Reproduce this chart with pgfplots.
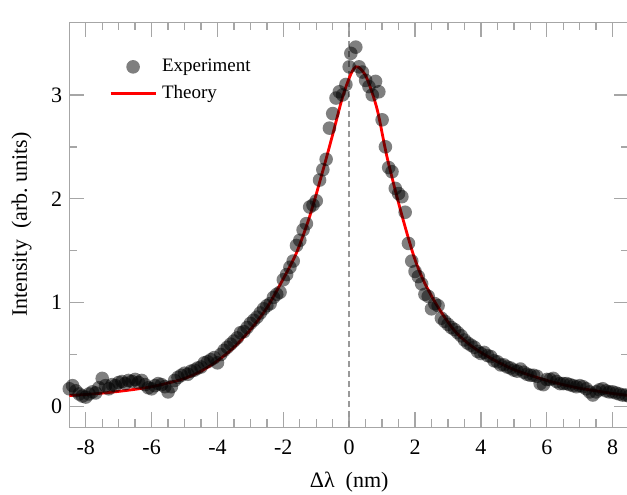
\documentclass[border=0pt]{standalone}
\usepackage{fontspec}
\setmainfont{Liberation Serif}
\usepackage{pgfplots}
\pgfplotsset{compat=1.18}
\pgfplotsset{
  markleg/.style={legend image code/.code={\draw[mark repeat=2, mark phase=2, ##1] plot coordinates {(0pt,0pt) (11.25pt,0pt) (22.5pt,0pt)};}},
  lineleg/.style={legend image code/.code={\draw[##1] (0pt,0pt) -- (22.5pt,0pt);}},
}
\begin{document}
\begin{tikzpicture}
\begin{axis}[
  scale only axis,
  width=279.9pt, height=202.5pt,
  xmin=-8.5, xmax=8.5, ymin=-0.2, ymax=3.7,
  xtick={-8,-6,...,8}, ytick={0,1,2,3},
  minor x tick num=3, minor y tick num=1,
  tick align=inside, tick pos=both,
  major tick length=7.5pt, minor tick length=4pt,
  axis line style={gray!70, line width=0.7pt},
  every tick/.style={gray!70, line width=0.7pt},
  /pgf/number format/assume math mode=true,
  tick label style={font=\fontsize{11}{13}\selectfont},
  xticklabel style={yshift=-3pt},
  label style={font=\fontsize{11}{13}\selectfont},
  xlabel={Δλ\ \ (nm)},
  ylabel={Intensity\ \ (arb.\ units)},
  xlabel style={yshift=-1.5pt},
  ylabel style={yshift=3pt},
  legend cell align=left,
  legend style={draw=none, fill=none, at={(axis cs:-7.3,3.14)}, anchor=west,
    inner sep=0pt, row sep=4pt, column sep=2.5pt,
    nodes={inner sep=0pt, text height=7pt, text depth=2.5pt},
    font=\fontsize{9.5}{11}\selectfont},
]
\addplot [gray!80, densely dashed, line width=0.7pt, forget plot] coordinates {(0,-0.2) (0,3.7)};
\addplot [black, only marks, mark=*, mark size=3.4pt,
  mark options={fill=black, fill opacity=0.5, draw opacity=0}, markleg]
coordinates {
(-8.5,0.17) (-8.4,0.20) (-8.3,0.15) (-8.2,0.12) (-8.1,0.10) (-8.0,0.09) (-7.9,0.12) (-7.8,0.14) (-7.7,0.13) (-7.6,0.18)
(-7.5,0.27) (-7.4,0.20) (-7.3,0.17) (-7.2,0.21) (-7.1,0.20) (-7.0,0.23) (-6.9,0.24) (-6.8,0.22) (-6.7,0.25) (-6.6,0.24)
(-6.5,0.26) (-6.4,0.23) (-6.3,0.25) (-6.2,0.21) (-6.1,0.18) (-6.0,0.17) (-5.9,0.20) (-5.8,0.22) (-5.7,0.21) (-5.6,0.19)
(-5.5,0.14) (-5.4,0.19) (-5.3,0.25) (-5.2,0.28) (-5.1,0.30) (-5.0,0.32) (-4.9,0.31) (-4.8,0.34) (-4.7,0.35) (-4.6,0.37)
(-4.5,0.38) (-4.4,0.42) (-4.3,0.43) (-4.2,0.45) (-4.1,0.47) (-4.0,0.42) (-3.9,0.50) (-3.8,0.54) (-3.7,0.57) (-3.6,0.60)
(-3.5,0.63) (-3.4,0.66) (-3.3,0.71) (-3.2,0.72) (-3.1,0.76) (-3.0,0.80) (-2.9,0.83) (-2.8,0.86) (-2.7,0.90) (-2.6,0.94)
(-2.5,0.97) (-2.4,0.99) (-2.3,1.05) (-2.2,1.08) (-2.1,1.10) (-2.0,1.22) (-1.9,1.27) (-1.8,1.34) (-1.7,1.40) (-1.6,1.55)
(-1.5,1.60) (-1.4,1.70) (-1.3,1.76) (-1.2,1.92) (-1.1,1.94) (-1.0,1.98) (-0.9,2.18) (-0.8,2.28) (-0.7,2.38) (-0.6,2.68)
(-0.5,2.82) (-0.4,2.97) (-0.3,3.03) (-0.2,3.00) (-0.1,3.10) (0.0,3.27) (0.05,3.40) (0.2,3.46) (0.3,3.27) (0.4,3.22)
(0.5,3.14) (0.6,3.08) (0.7,3.00) (0.8,3.13) (0.9,3.03) (1.0,2.76) (1.1,2.50) (1.2,2.30) (1.3,2.26) (1.4,2.10)
(1.5,2.05) (1.6,2.02) (1.7,1.87) (1.8,1.57) (1.9,1.40) (2.0,1.30) (2.1,1.25) (2.2,1.18) (2.3,1.08) (2.4,1.06)
(2.5,0.94) (2.6,0.99) (2.7,0.97) (2.8,0.85) (2.9,0.82) (3.0,0.79) (3.1,0.76) (3.2,0.74) (3.3,0.71) (3.4,0.68)
(3.5,0.64) (3.6,0.61) (3.7,0.59) (3.8,0.57) (3.9,0.53) (4.0,0.51) (4.1,0.52) (4.2,0.49) (4.3,0.48) (4.4,0.44)
(4.5,0.43) (4.6,0.40) (4.7,0.40) (4.8,0.38) (4.9,0.37) (5.0,0.35) (5.1,0.34) (5.2,0.36) (5.3,0.33) (5.4,0.31)
(5.5,0.30) (5.6,0.30) (5.7,0.29) (5.8,0.22) (5.9,0.21) (6.0,0.26) (6.1,0.26) (6.2,0.27) (6.3,0.24) (6.4,0.22)
(6.5,0.22) (6.6,0.22) (6.7,0.21) (6.8,0.20) (6.9,0.19) (7.0,0.20) (7.1,0.19) (7.2,0.17) (7.3,0.14) (7.4,0.11)
(7.5,0.14) (7.6,0.16) (7.7,0.17) (7.8,0.15) (7.9,0.14) (8.0,0.14) (8.1,0.13) (8.2,0.12) (8.3,0.11) (8.4,0.11)
(8.5,0.10)
};
\addlegendentry{Experiment}
\addplot [red, line width=1.4pt, smooth, tension=0.5, lineleg]
coordinates {
(-8.5,0.105) (-8.0,0.115) (-7.5,0.128) (-7.0,0.145) (-6.5,0.165) (-6.0,0.19) (-5.5,0.225) (-5.0,0.27)
(-4.5,0.34) (-4.0,0.44) (-3.5,0.57) (-3.0,0.74) (-2.5,0.95) (-2.0,1.23) (-1.6,1.48) (-1.2,1.83)
(-0.8,2.27) (-0.5,2.62) (-0.2,2.98) (0.05,3.20) (0.2,3.27) (0.35,3.25) (0.55,3.15) (0.85,2.86)
(1.15,2.40) (1.55,1.90) (1.95,1.46) (2.26,1.21) (2.67,0.97) (3.17,0.74) (3.6,0.61) (4.0,0.52)
(4.5,0.43) (5.0,0.355) (5.5,0.30) (6.0,0.25) (6.5,0.21) (7.0,0.175) (7.5,0.15) (8.0,0.125) (8.5,0.105)
};
\addlegendentry{Theory}
\end{axis}
\pgfresetboundingbox
\path (current axis.south west) ++(-34.65pt,-33.4pt) rectangle ++(313.5pt,247pt);
\end{tikzpicture}
\end{document}
